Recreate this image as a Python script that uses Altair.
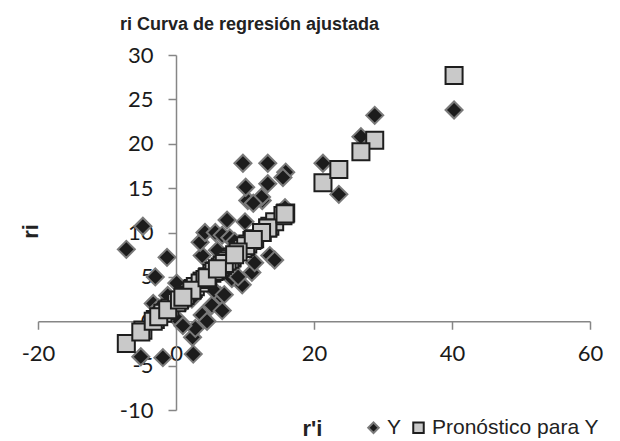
import altair as alt
import pandas as pd

# r'i values (x), observed ri (Y) and predicted ri (Pronóstico para Y)
r_prime = [-7.2, -4.8, -1.3, -3.0, -5.1, -1.9, 2.5, 2.4, -3.3, -2.5,
           -0.9, 0.1, -1.2, 1.3, 2.8, 3.8, 5.2, 6.7, 6.4, 8.1,
           9.6, 11.0, 11.4, 13.6, 14.3, 8.1, 4.6, 3.8, 3.5, 4.2,
           5.7, 6.7, 7.8, 7.4, 10.0, 10.4, 12.5, 9.7, 13.3, 15.9,
           15.5, 13.3, 10.1, 12.4, 11.2, 15.8, 40.3, 28.8, 26.8, 21.3,
           23.6, 2.3, 5.5, 7.0, 9.0, 0.5, 1.0, 4.5, 8.5, 6.0]
r_obs = [8.1, 10.7, 7.2, 5.0, -4.0, -4.1, -3.7, -1.8, 2.0, 1.5,
         1.0, 4.3, 2.9, 2.1, -0.8, 0.7, 1.8, 1.2, 2.9, 4.8,
         4.1, 5.5, 6.6, 7.4, 6.9, 6.1, 5.2, 7.4, 8.9, 10.0,
         10.0, 9.7, 9.4, 11.4, 11.2, 13.6, 13.6, 17.8, 17.8, 16.8,
         16.2, 15.5, 15.1, 14.0, 13.3, 12.8, 23.8, 23.2, 20.8, 17.8,
         14.3, 2.5, 3.5, 3.0, 5.0, 0.0, -0.5, 0.0, 9.0, 8.0]
r_pred = [-2.5, -1.0, 1.2, 0.2, -1.2, 0.9, 3.7, 3.6, 0.0, 0.5,
          1.5, 2.1, 1.3, 2.9, 3.9, 4.5, 5.4, 6.3, 6.1, 7.2,
          8.2, 9.1, 9.3, 10.7, 11.2, 7.2, 5.0, 4.5, 4.3, 4.7,
          5.7, 6.3, 7.0, 6.8, 8.4, 8.7, 10.0, 8.2, 10.5, 12.2,
          11.9, 10.5, 8.5, 10.0, 9.2, 12.1, 27.7, 20.4, 19.1, 15.6,
          17.1, 3.5, 5.6, 6.5, 7.8, 2.4, 2.7, 4.9, 7.5, 5.9]
series_names = ["Y", "Pronóstico para Y"]
x_ticks = [-20, 0, 20, 40, 60]
y_ticks = [-10, -5, 0, 5, 10, 15, 20, 25, 30]

n = len(r_prime)
df = pd.DataFrame({
    "x": r_prime + r_prime,
    "y": r_obs + r_pred,
    "serie": [series_names[0]] * n + [series_names[1]] * n,
})

W, H = 552, 355
xdom = [-20, 60]
ydom = [-10, 30]
x_axis_off = -(0 - xdom[0]) / (xdom[1] - xdom[0]) * W   # y-axis shift to x=0
y_axis_off = -(0 - ydom[0]) / (ydom[1] - ydom[0]) * H   # x-axis shift to y=0

AX = "#868686"
legend = alt.Legend(title=None, orient="none", legendX=325, legendY=362,
                    direction="horizontal", labelFont="Liberation Sans",
                    labelFontSize=21, labelColor="#222222", labelLimit=320,
                    symbolSize=110, symbolStrokeWidth=2, columnPadding=6,
                    labelOffset=3)

label_expr = "replace(datum.label, '\u2212', '-')"

chart = alt.Chart(df).mark_point(filled=True, strokeWidth=2, opacity=1, size=290).encode(
    x=alt.X("x:Q", scale=alt.Scale(domain=xdom, nice=False, zero=False),
            axis=alt.Axis(values=x_ticks, offset=y_axis_off, grid=False,
                          title="r'i", titleX=274, titleY=114,
                          titleBaseline="alphabetic", titleAlign="center",
                          titleFont="Liberation Sans", titleFontSize=22,
                          titleFontWeight="bold", titleColor="#222222",
                          labelFont="Lato", labelFontSize=22, labelColor="#1a1a1a",
                          labelExpr=label_expr,
                          labelPadding=14, tickSize=8, tickColor=AX, domainColor=AX,
                          domainWidth=1.5, tickWidth=1.5, labelFlush=False)),
    y=alt.Y("y:Q", scale=alt.Scale(domain=ydom, nice=False, zero=False),
            axis=alt.Axis(values=y_ticks, offset=x_axis_off, grid=False,
                          title="ri", titleX=-146, titleY=176, titleAngle=270,
                          titleBaseline="middle", titleAlign="center",
                          titleFont="Liberation Sans", titleFontSize=22,
                          titleFontWeight="bold", titleColor="#222222",
                          labelFont="Lato", labelFontSize=22, labelColor="#1a1a1a",
                          labelExpr=label_expr,
                          labelPadding=15, tickSize=8, tickColor=AX, domainColor=AX,
                          domainWidth=1.5, tickWidth=1.5, labelFlush=False)),
    shape=alt.Shape("serie:N", scale=alt.Scale(domain=series_names, range=["diamond", "square"]), legend=legend),
    fill=alt.Fill("serie:N", scale=alt.Scale(domain=series_names, range=["#1c1c1c", "#c9c9c9"]), legend=legend),
    stroke=alt.Stroke("serie:N", scale=alt.Scale(domain=series_names, range=["#7a7a7a", "#1e1e1e"]), legend=legend),
).properties(
    width=W, height=H,
    title=alt.Title("ri Curva de regresión ajustada", anchor="start", frame="group",
                    dx=82, offset=10, font="Liberation Sans", fontSize=18,
                    fontWeight="bold", color="#222222"),
    autosize=alt.AutoSizeParams(type="none"),
    padding={"left": 30, "top": 47, "right": 22, "bottom": 30},
).configure_view(stroke=None)

chart.save("out.html", embed_options={"renderer": "svg", "actions": False})
